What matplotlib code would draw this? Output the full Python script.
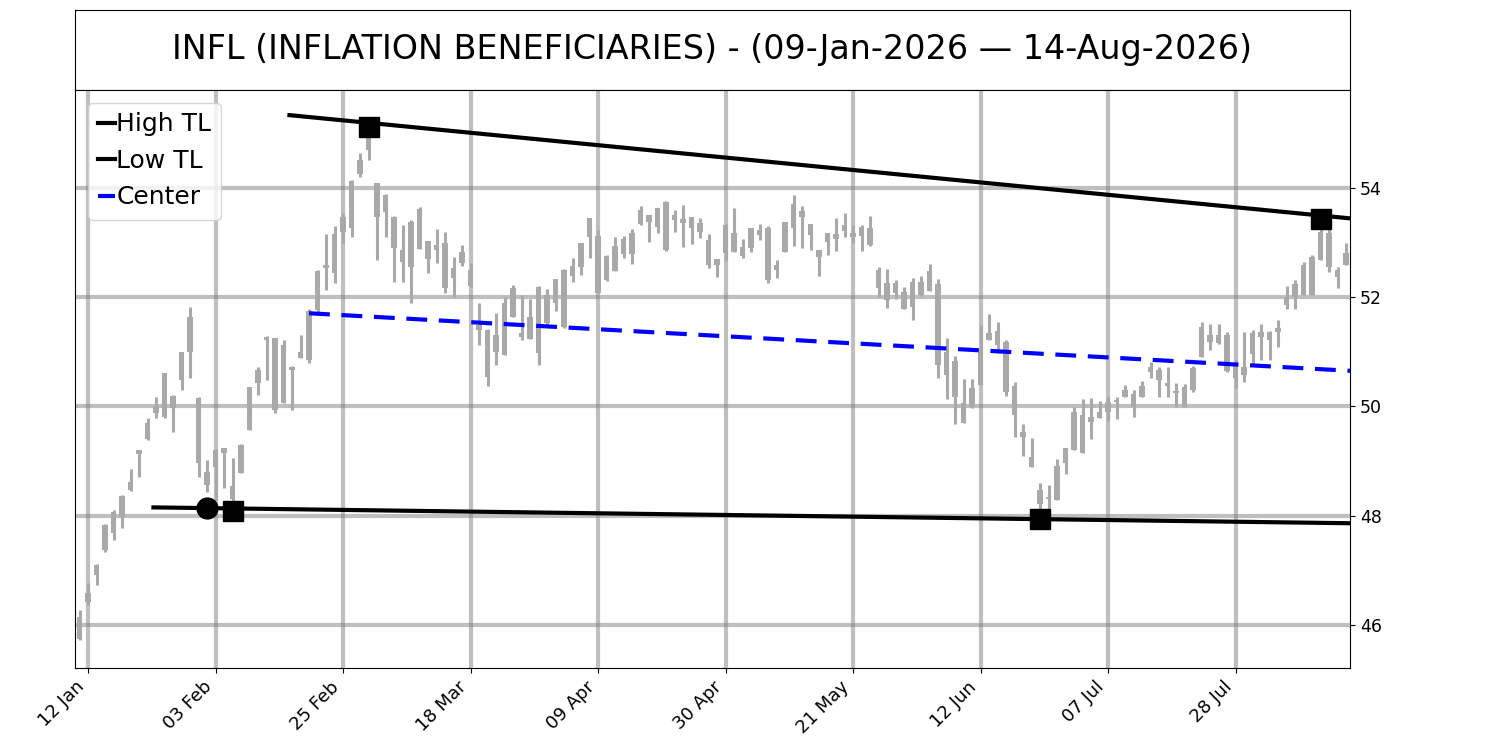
import numpy as np
import matplotlib
matplotlib.use('Agg')
import matplotlib.pyplot as plt

# daily bars, one per trading day (09-Jan-2026 .. 14-Aug-2026)
opens = [45.75, 46.42, 46.91, 47.37, 47.68, 47.97, 48.47, 49.13, 49.40, 49.88,
         49.81, 50.19, 50.48, 51.00, 50.15, 48.56, 48.89, 49.15, 48.55, 48.78,
         49.57, 50.43, 51.22, 51.25, 50.06, 50.72, 50.89, 50.85, 51.77, 52.53,
         52.44, 53.19, 53.27, 54.26, 54.70, 54.09, 53.87, 53.47, 52.86, 52.55,
         53.62, 53.03, 52.86, 52.99, 52.35, 52.63, 52.50, 51.49, 51.40, 51.00,
         50.94, 52.17, 51.34, 51.23, 50.98, 52.04, 51.89, 51.45, 52.39, 52.55,
         53.10, 53.12, 52.32, 52.48, 52.79, 52.79, 53.34, 53.51, 53.29, 53.74,
         53.41, 53.43, 53.47, 53.19, 53.05, 52.59, 52.81, 53.18, 52.75, 52.90,
         53.23, 53.27, 52.50, 52.83, 53.27, 53.58, 53.34, 52.86, 53.01, 53.16,
         53.32, 53.18, 53.12, 53.26, 52.50, 52.26, 52.08, 52.10, 51.82, 52.28,
         52.11, 52.24, 50.57, 50.83, 50.06, 49.99, 50.39, 51.34, 51.12, 51.18,
         50.37, 49.53, 49.07, 48.21, 48.34, 48.29, 48.96, 49.20, 49.84, 49.71,
         49.79, 49.90, 50.08, 50.17, 50.23, 50.17, 50.63, 50.67, 50.43, 50.27,
         49.99, 50.30, 50.90, 51.31, 51.16, 51.31, 50.52, 50.72, 50.96, 51.36,
         51.22, 51.36, 51.86, 52.00, 52.04, 52.04, 52.68, 53.18, 52.50, 52.59]
highs = [46.27, 46.77, 47.11, 47.85, 48.10, 48.38, 48.85, 49.20, 49.79, 50.17,
         50.61, 50.21, 51.00, 51.82, 50.17, 49.02, 49.22, 49.24, 49.05, 49.31,
         50.36, 50.72, 51.29, 51.25, 51.22, 50.74, 51.31, 51.78, 52.50, 53.16,
         53.30, 53.54, 54.15, 54.64, 55.12, 54.09, 53.89, 53.49, 53.32, 53.41,
         53.65, 53.03, 53.25, 53.19, 52.74, 52.96, 52.63, 51.89, 51.42, 51.71,
         52.00, 52.22, 52.04, 51.97, 52.20, 52.15, 52.33, 52.52, 52.72, 52.99,
         53.45, 53.23, 52.77, 53.10, 53.12, 53.25, 53.67, 53.51, 53.63, 53.76,
         53.60, 53.69, 53.47, 53.45, 53.16, 52.70, 53.34, 53.63, 53.07, 53.27,
         53.34, 53.30, 52.68, 53.38, 53.87, 53.67, 53.34, 52.86, 53.18, 53.45,
         53.54, 53.32, 53.32, 53.49, 52.55, 52.52, 52.31, 52.19, 52.35, 52.39,
         52.61, 52.33, 51.25, 50.92, 50.50, 50.50, 51.49, 51.69, 51.55, 51.22,
         50.45, 49.68, 49.42, 48.60, 48.56, 49.04, 49.24, 49.99, 50.13, 50.15,
         50.10, 50.17, 50.17, 50.39, 50.30, 50.47, 50.81, 50.72, 50.72, 50.43,
         50.41, 50.73, 51.55, 51.51, 51.51, 51.36, 50.85, 51.36, 51.40, 51.51,
         51.38, 51.58, 52.20, 52.31, 52.64, 52.77, 53.42, 53.36, 52.55, 52.99]
lows = [45.72, 46.36, 46.73, 47.33, 47.55, 47.77, 48.45, 48.71, 49.38, 49.79,
        49.79, 49.53, 50.30, 50.52, 48.71, 48.43, 48.29, 48.51, 48.09, 48.78,
        49.57, 50.21, 50.48, 49.88, 50.06, 49.93, 50.89, 50.79, 51.71, 52.13,
        52.26, 52.99, 53.10, 54.20, 54.51, 52.68, 53.10, 52.28, 52.28, 51.89,
        52.88, 52.44, 52.63, 52.08, 52.00, 52.57, 52.19, 51.12, 50.37, 50.76,
        50.94, 51.64, 51.22, 51.23, 50.76, 51.49, 51.75, 51.44, 52.28, 52.41,
        52.72, 52.08, 52.30, 52.48, 52.72, 52.61, 53.32, 53.01, 53.18, 52.85,
        53.19, 52.92, 52.97, 53.08, 52.53, 52.37, 52.66, 52.83, 52.72, 52.83,
        53.05, 52.26, 52.35, 52.83, 52.94, 52.90, 52.86, 52.39, 52.77, 52.85,
        53.10, 52.99, 52.85, 52.93, 52.00, 51.80, 51.97, 51.78, 51.58, 52.02,
        52.11, 50.52, 50.14, 49.68, 49.70, 49.97, 50.39, 51.22, 50.98, 50.19,
        49.44, 49.09, 48.89, 47.90, 48.07, 48.29, 48.76, 49.20, 49.15, 49.40,
        49.79, 49.73, 49.77, 50.17, 49.81, 50.17, 50.52, 50.17, 50.17, 49.99,
        49.99, 50.27, 50.90, 51.03, 51.14, 50.63, 50.34, 50.45, 50.78, 50.85,
        50.85, 51.09, 51.78, 51.78, 52.04, 52.04, 52.68, 52.46, 52.17, 52.59]
closes = [46.15, 46.58, 47.09, 47.83, 48.07, 48.36, 48.62, 49.20, 49.70, 50.00,
          50.61, 49.97, 51.00, 51.64, 48.96, 48.80, 49.20, 49.24, 48.30, 49.29,
          50.35, 50.67, 51.27, 49.93, 51.12, 50.67, 51.00, 51.75, 52.48, 52.59,
          53.16, 53.47, 54.13, 54.51, 55.00, 53.47, 53.56, 52.90, 52.64, 53.38,
          52.88, 52.70, 52.96, 52.17, 52.53, 52.83, 52.20, 51.40, 50.54, 51.31,
          51.89, 51.64, 51.27, 51.64, 52.19, 51.53, 52.33, 52.50, 52.57, 52.99,
          53.45, 52.08, 52.75, 52.94, 53.07, 53.18, 53.60, 53.38, 53.63, 52.86,
          53.51, 53.36, 53.27, 53.36, 52.59, 52.70, 53.32, 52.83, 52.92, 53.27,
          53.14, 52.32, 52.59, 53.38, 53.71, 53.47, 53.14, 52.74, 53.18, 53.07,
          53.21, 53.10, 53.29, 52.96, 52.17, 51.95, 52.26, 51.78, 52.28, 52.04,
          52.48, 50.76, 51.00, 50.17, 49.70, 50.34, 51.05, 51.22, 51.38, 50.26,
          49.84, 49.44, 48.89, 48.47, 48.30, 48.91, 49.24, 49.90, 49.15, 49.81,
          49.90, 50.08, 50.12, 50.30, 49.99, 50.37, 50.72, 50.48, 50.37, 50.24,
          50.36, 50.70, 51.45, 51.18, 51.31, 50.65, 50.79, 50.57, 51.34, 51.27,
          51.36, 51.44, 52.00, 52.24, 52.59, 52.74, 53.19, 52.55, 52.37, 52.81]

# x tick labels (every 15 trading days, starting at the 2nd bar)
tick_labels = ['12 Jan', '03 Feb', '25 Feb', '18 Mar', '09 Apr',
               '30 Apr', '21 May', '12 Jun', '07 Jul', '28 Jul']

# trendlines (bar index, price)
high_tl_x = [24.7, 149.5]
high_tl_y = [55.33, 53.44]
low_tl_x = [8.7, 149.5]
low_tl_y = [48.15, 47.86]
center_start = 27

# touch points
high_pts_x = [34, 146]
high_pts_y = [55.12, 53.42]
low_pts_x = [18, 113]
low_pts_y = [48.08, 47.93]
pivot_x = [15]
pivot_y = [48.14]

title = 'INFL (INFLATION BENEFICIARIES) - (09-Jan-2026 \u2014 14-Aug-2026)'

n = len(opens)
x = np.arange(n)
o = np.array(opens)
c = np.array(closes)

fig = plt.figure(figsize=(15, 7.5), dpi=100)
ax_t = fig.add_axes([0.05, 0.88, 0.85, 0.1067])
ax = fig.add_axes([0.05, 0.1093, 0.85, 0.7707])

# title box
ax_t.set_xticks([])
ax_t.set_yticks([])
ax_t.text(0.5, 0.5, title, ha='center', va='center', fontsize=24,
          transform=ax_t.transAxes)

# candles
bar_col = '#a9a9a9'
ax.vlines(x, lows, highs, color=bar_col, linewidth=2.2, zorder=2)
bottoms = np.minimum(o, c)
heights = np.maximum(np.abs(c - o), 0.04)
ax.bar(x, heights, bottom=bottoms, width=0.7, color=bar_col, zorder=2)

# trendlines
ax.plot(high_tl_x, high_tl_y, color='black', linewidth=3, label='High TL', zorder=3)
ax.plot(low_tl_x, low_tl_y, color='black', linewidth=3, label='Low TL', zorder=3)
cx = np.array([center_start, high_tl_x[-1]])
cy = (np.interp(cx, high_tl_x, high_tl_y) + np.interp(cx, low_tl_x, low_tl_y)) / 2
ax.plot(cx, cy, color='blue', linewidth=3, linestyle=(0, (5, 2.8)), label='Center', zorder=3)

ax.plot(high_pts_x, high_pts_y, 's', color='black', markersize=14, zorder=4)
ax.plot(low_pts_x, low_pts_y, 's', color='black', markersize=14, zorder=4)
ax.plot(pivot_x, pivot_y, 'o', color='black', markersize=15, zorder=4)

ax.set_xlim(-0.53, 149.47)
ax.set_ylim(45.21, 55.79)
ax.set_xticks(np.arange(len(tick_labels)) * 15 + 1)
ax.set_xticklabels(tick_labels, rotation=45, ha='right', fontsize=13)
ax.set_yticks([46, 48, 50, 52, 54])
ax.yaxis.tick_right()
ax.tick_params(axis='y', labelsize=12.5)
ax.grid(True, color='gray', alpha=0.5, linewidth=3)
ax.set_axisbelow(True)

ax.legend(loc='upper left', fontsize=18, handlelength=0.7, handletextpad=0.05)

fig.savefig('out.png', dpi=100)
